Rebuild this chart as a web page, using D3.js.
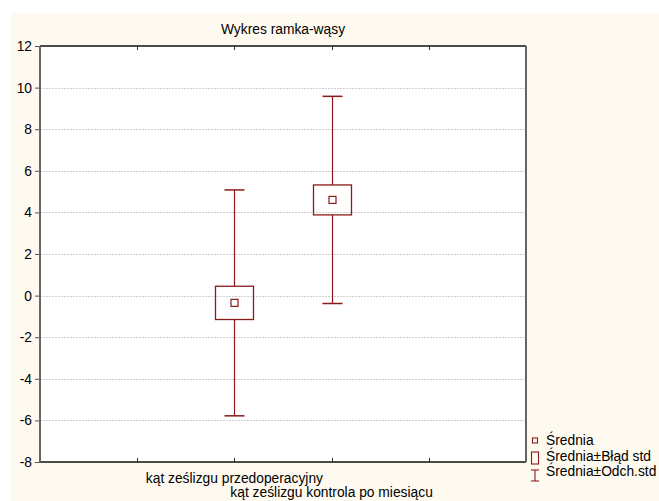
<!DOCTYPE html>
<html>
<head>
<meta charset="utf-8">
<script src="https://cdn.jsdelivr.net/npm/d3@7"></script>
<style>
  html, body { margin: 0; padding: 0; background: #ffffff; }
  svg { display: block; }
  text { font-family: "Liberation Sans", Arial, sans-serif; fill: #000; }
</style>
</head>
<body>
<svg id="chart" width="659" height="501"></svg>
<script>
// Variables shown in the box-and-whisker plot
const categories = ["kąt ześlizgu przedoperacyjny", "kąt ześlizgu kontrola po miesiącu"];
// Mean, standard error and standard deviation for each variable
const means = [-0.35, 4.60];
const stdErrors = [0.80, 0.72];
const stdDevs = [5.43, 4.98];
// Y axis ticks
const yTicks = [-8, -6, -4, -2, 0, 2, 4, 6, 8, 10, 12];
const title = "Wykres ramka-wąsy";
const legendLabels = ["Średnia", "Średnia±Błąd std", "Średnia±Odch.std"];

const W = 659, H = 501;
const plot = { left: 40, right: 526, top: 46, bottom: 462 };
const red = "#8b1a1a";
const fontSize = "13.8px";

const svg = d3.select("#chart");

// Cream page panel
svg.append("rect").attr("x", 11).attr("y", 13).attr("width", W - 11).attr("height", H - 13)
  .attr("fill", "#fffaf0");
// White plotting area
svg.append("rect").attr("x", plot.left).attr("y", plot.top)
  .attr("width", plot.right - plot.left).attr("height", plot.bottom - plot.top)
  .attr("fill", "#ffffff");

const y = d3.scaleLinear().domain([-8, 12]).range([plot.bottom, plot.top]);
// Two empty slots on either side of the variables
const slots = ["_a", ...categories, "_b"];
const x = d3.scalePoint().domain(slots).range([plot.left, plot.right]).padding(1);

// Horizontal grid lines
svg.append("g").selectAll("line")
  .data(yTicks.filter(v => v > -8 && v < 12))
  .join("line")
  .attr("x1", plot.left).attr("x2", plot.right)
  .attr("y1", d => Math.round(y(d)) + 0.5).attr("y2", d => Math.round(y(d)) + 0.5)
  .attr("stroke", "#cfcfcf").attr("stroke-width", 1)
  .attr("stroke-dasharray", "2,1");

// Y axis
const yAxis = svg.append("g").attr("transform", `translate(${plot.left},0)`)
  .call(d3.axisLeft(y).tickValues(yTicks).tickSize(5).tickPadding(3).tickFormat(d => String(d)));
yAxis.select(".domain").remove();
yAxis.selectAll(".tick line").attr("stroke", "#555");
yAxis.selectAll(".tick text").style("font-size", fontSize)
  .style("font-family", "'Liberation Sans', Arial, sans-serif");

// Inward x ticks at top and bottom
svg.append("g").selectAll("line").data(slots).join("line")
  .attr("x1", d => Math.round(x(d)) + 0.5).attr("x2", d => Math.round(x(d)) + 0.5)
  .attr("y1", plot.top).attr("y2", plot.top + 4)
  .attr("stroke", "#333");
svg.append("g").selectAll("line").data(slots).join("line")
  .attr("x1", d => Math.round(x(d)) + 0.5).attr("x2", d => Math.round(x(d)) + 0.5)
  .attr("y1", plot.bottom).attr("y2", plot.bottom - 4)
  .attr("stroke", "#333");

// Frame
svg.append("line").attr("x1", plot.left).attr("x2", plot.right)
  .attr("y1", plot.top).attr("y2", plot.top).attr("stroke", "#111").attr("stroke-width", 1.5);
svg.append("line").attr("x1", plot.left).attr("x2", plot.right)
  .attr("y1", plot.bottom).attr("y2", plot.bottom).attr("stroke", "#111").attr("stroke-width", 1.5);
svg.append("line").attr("x1", plot.left).attr("x2", plot.left)
  .attr("y1", plot.top).attr("y2", plot.bottom).attr("stroke", "#666").attr("stroke-width", 2);
svg.append("line").attr("x1", plot.right).attr("x2", plot.right)
  .attr("y1", plot.top).attr("y2", plot.bottom).attr("stroke", "#666").attr("stroke-width", 2);

// Title
svg.append("text").attr("x", (plot.left + plot.right) / 2).attr("y", 34)
  .attr("text-anchor", "middle").style("font-size", fontSize).text(title);

// Category labels, staggered
svg.append("g").selectAll("text").data(categories).join("text")
  .attr("x", d => x(d)).attr("y", (d, i) => 483 + i * 14)
  .attr("text-anchor", "middle").style("font-size", fontSize).text(d => d);

// Boxes and whiskers
const boxW = 38, capW = 20, meanS = 7;
const stats = categories.map((c, i) => ({ c, m: means[i], se: stdErrors[i], sd: stdDevs[i] }));
const g = svg.append("g");
stats.forEach(s => {
  const cx = Math.round(x(s.c)) + 0.5;
  // whisker: mean ± SD
  g.append("line").attr("x1", cx).attr("x2", cx)
    .attr("y1", y(s.m + s.sd)).attr("y2", y(s.m + s.se))
    .attr("stroke", red).attr("stroke-width", 1.2);
  g.append("line").attr("x1", cx).attr("x2", cx)
    .attr("y1", y(s.m - s.se)).attr("y2", y(s.m - s.sd))
    .attr("stroke", red).attr("stroke-width", 1.2);
  [s.m + s.sd, s.m - s.sd].forEach(v => {
    g.append("line").attr("x1", cx - capW / 2).attr("x2", cx + capW / 2)
      .attr("y1", y(v)).attr("y2", y(v))
      .attr("stroke", red).attr("stroke-width", 1.5);
  });
  // box: mean ± SE
  g.append("rect").attr("x", cx - boxW / 2).attr("y", y(s.m + s.se))
    .attr("width", boxW).attr("height", y(s.m - s.se) - y(s.m + s.se))
    .attr("fill", "none").attr("stroke", red).attr("stroke-width", 1.3);
  // mean marker
  g.append("rect").attr("x", cx - meanS / 2).attr("y", y(s.m) - meanS / 2)
    .attr("width", meanS).attr("height", meanS)
    .attr("fill", "none").attr("stroke", red).attr("stroke-width", 1.2);
});

// Legend
const lg = svg.append("g");
const lx = 535, ly = [445, 461, 476];
lg.append("rect").attr("x", lx - 2.5).attr("y", ly[0] - 7).attr("width", 5).attr("height", 5)
  .attr("fill", "none").attr("stroke", red).attr("stroke-width", 1.1);
lg.append("rect").attr("x", lx - 3.5).attr("y", 452).attr("width", 7).attr("height", 12)
  .attr("fill", "none").attr("stroke", red).attr("stroke-width", 1.1);
lg.append("line").attr("x1", lx).attr("x2", lx).attr("y1", 470).attr("y2", 481)
  .attr("stroke", red).attr("stroke-width", 1.1);
[470, 481].forEach(v => lg.append("line").attr("x1", lx - 4).attr("x2", lx + 4)
  .attr("y1", v).attr("y2", v).attr("stroke", red).attr("stroke-width", 1.1));
lg.selectAll("text").data(legendLabels).join("text")
  .attr("x", 546).attr("y", (d, i) => ly[i])
  .style("font-size", fontSize).text(d => d);
</script>
</body>
</html>
